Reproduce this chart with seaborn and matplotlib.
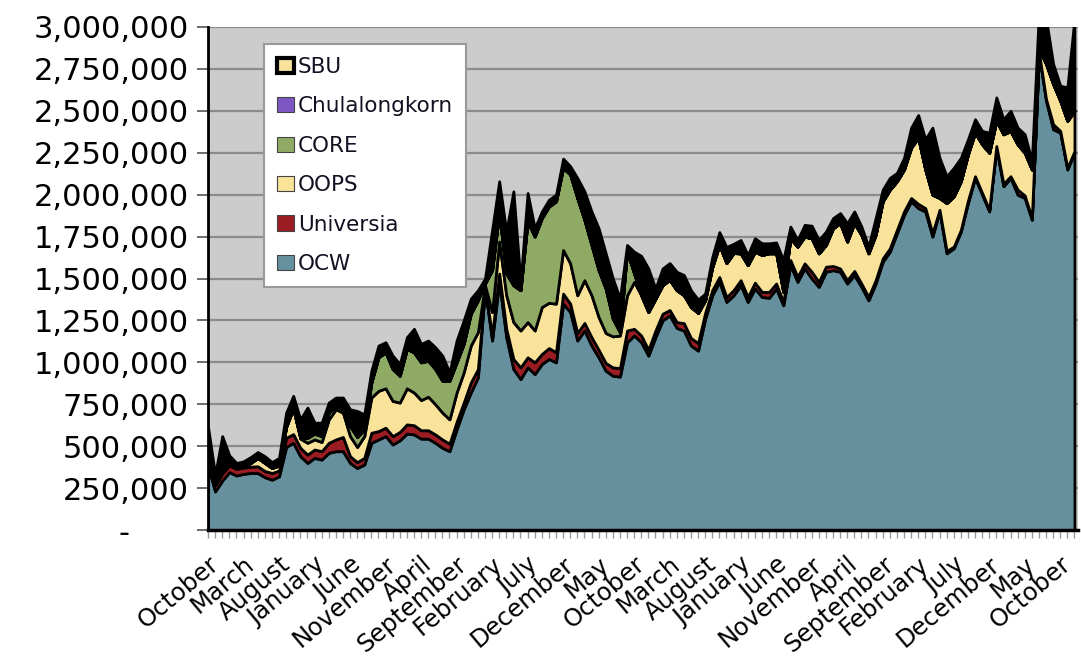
import numpy as np
import pandas as pd
import matplotlib
matplotlib.use("Agg")
import matplotlib.pyplot as plt
import seaborn as sns
from matplotlib.patches import Patch
from matplotlib.ticker import FuncFormatter, MultipleLocator

# monthly visits (thousands), one value per month starting October of year one
ocw = [380, 230, 295, 345, 325, 335, 340, 340, 315, 300, 320,
       495, 520, 440, 400, 430, 420, 460, 470, 470, 400,
       370, 390, 520, 540, 560, 510, 535, 575, 570, 545,
       545, 520, 490, 470, 600, 720, 820, 910, 1440, 1130,
       1480, 1150, 960, 900, 970, 930, 990, 1020, 1000, 1350,
       1300, 1130, 1190, 1100, 1030, 950, 920, 915, 1120, 1160,
       1120, 1040, 1150, 1250, 1280, 1205, 1190, 1100, 1070, 1260,
       1400, 1480, 1360, 1400, 1460, 1360, 1440, 1390, 1385, 1440,
       1340, 1580, 1480, 1560, 1500, 1450, 1540, 1550, 1540, 1470,
       1520, 1450, 1370, 1470, 1600, 1660, 1770, 1880, 1960, 1920,
       1900, 1750, 1900, 1650, 1680, 1780, 1950, 2100, 2000, 1900,
       2280, 2050, 2100, 2000, 1980, 1850, 2840, 2560, 2390, 2370,
       2150, 2250]
universia = [20, 38, 45, 40, 40, 37, 38, 40, 37, 40, 35,
             55, 52, 50, 50, 50, 50, 60, 70, 85, 40,
             35, 40, 60, 50, 50, 50, 50, 55, 55, 50,
             50, 50, 50, 45, 45, 40, 60, 50, 10, 30,
             50, 50, 60, 70, 60, 70, 60, 65, 60, 60,
             50, 45, 45, 50, 45, 46, 50, 51, 70, 40,
             40, 35, 40, 40, 32, 35, 44, 45, 45, 35,
             31, 29, 29, 31, 30, 30, 35, 30, 35, 30,
             20, 30, 30, 30, 40, 30, 30, 25, 20, 20,
             25, 20, 20, 20, 20, 20, 20, 20, 20, 25,
             20, 20, 10, 15, 10, 10, 15, 10, 10, 10,
             10, 15, 10, 30, 15, 10, 10, 10, 30, 10,
             10, 10]
oops = [0, 0, 0, 5, 5, 8, 22, 50, 48, 30, 30,
        65, 153, 55, 70, 60, 55, 140, 180, 145, 120,
        90, 130, 210, 240, 235, 210, 175, 215, 195, 180,
        200, 180, 160, 145, 175, 180, 220, 220, 10, 140,
        190, 200, 220, 220, 210, 190, 280, 270, 290, 260,
        240, 225, 255, 250, 195, 179, 185, 194, 210, 280,
        240, 225, 190, 170, 180, 190, 167, 185, 180, 75,
        137, 191, 203, 221, 160, 190, 185, 220, 230, 180,
        60, 130, 180, 160, 200, 170, 130, 225, 270, 230,
        285, 290, 260, 270, 340, 350, 290, 250, 300, 395,
        230, 230, 70, 285, 300, 290, 275, 260, 290, 340,
        150, 295, 270, 270, 255, 290, 20, 210, 240, 180,
        280, 240]
core = [0, 0, 0, 0, 0, 0, 0, 0, 0, 0, 0,
        0, 0, 5, 30, 35, 35, 40, 20, 20, 60,
        60, 40, 90, 200, 215, 190, 160, 235, 240, 225,
        215, 210, 190, 230, 180, 170, 190, 190, 10, 250,
        170, 130, 220, 240, 600, 560, 530, 575, 610, 490,
        530, 580, 360, 300, 280, 265, 105, 20, 260, 50] + [0] * 62
chulalongkorn = [0] * 78 + [5, 15, 10] + [0] * 42
sbu = [215, 62, 220, 55, 30, 30, 35, 35, 40, 35, 45,
       85, 75, 110, 180, 65, 80, 60, 50, 70, 100,
       155, 90, 70, 70, 60, 80, 70, 70, 140, 110,
       120, 130, 150, 50, 130, 140, 90, 60, 30, 240,
       190, 250, 560, 50, 170, 50, 40, 40, 40, 55,
       50, 120, 170, 200, 250, 210, 240, 200, 40, 130,
       235, 260, 60, 100, 100, 110, 120, 100, 80, 40,
       60, 77, 96, 55, 80, 60, 80, 65, 45, 55,
       190, 70, 40, 70, 75, 80, 80, 60, 60, 110,
       70, 50, 40, 100, 70, 70, 50, 70, 120, 135,
       180, 400, 240, 160, 170, 140, 90, 80, 80, 120,
       140, 90, 120, 100, 110, 50, 230, 270, 120, 90,
       200, 550]

month_labels = ["October", "March", "August", "January", "June", "November",
                "April", "September", "February", "July", "December", "May",
                "October", "March", "August", "January", "June", "November",
                "April", "September", "February", "July", "December", "May",
                "October"]

series = ["OCW", "Universia", "OOPS", "CORE", "Chulalongkorn", "SBU"]
colors = {"OCW": "#66909e", "Universia": "#9b1c22", "OOPS": "#f9e39b",
          "CORE": "#8faa64", "Chulalongkorn": "#7e57c2", "SBU": "#000000"}

df = pd.DataFrame({"OCW": ocw, "Universia": universia, "OOPS": oops,
                   "CORE": core, "Chulalongkorn": chulalongkorn, "SBU": sbu}) * 1000
df["month"] = np.arange(len(df))

sns.set_theme(style="white")
plt.rcParams["font.family"] = ["DejaVu Sans"]

fig = plt.figure(figsize=(10.81, 6.57), dpi=100)
ax = fig.add_axes([208 / 1081, 1 - 530 / 657, 870 / 1081, 503 / 657])
ax.set_facecolor("#cccccc")

ax.stackplot(df["month"], *[df[s] for s in series],
             colors=[colors[s] for s in series],
             edgecolor="black", linewidth=2)

ax.set_xlim(0, 122.5)
ax.set_ylim(0, 3000000)
ax.yaxis.set_major_locator(MultipleLocator(250000))
ax.yaxis.set_major_formatter(FuncFormatter(
    lambda v, p: "-      " if v == 0 else f"{int(v):,}"))
ax.yaxis.grid(True, color="#8c8c8c", linewidth=1.6)
ax.set_axisbelow(True)

ax.set_xticks(np.arange(0, 121, 5))
ax.set_xticklabels(month_labels)
ax.set_xticks(np.arange(0, 123, 1), minor=True)
plt.setp(ax.get_xticklabels(), rotation=40, ha="right", va="top",
         rotation_mode="anchor")

ax.tick_params(axis="y", labelsize=22, length=8, width=1.2, color="#555555",
               pad=6, left=True, labelcolor="black")
ax.tick_params(axis="x", which="both", length=6, width=1, color="#999999",
               bottom=True, direction="out")
ax.tick_params(axis="x", which="major", labelsize=17.5, pad=10, labelcolor="black")

for side in ["top", "right"]:
    ax.spines[side].set_visible(False)
ax.spines["left"].set_color("black")
ax.spines["left"].set_linewidth(2)
ax.spines["bottom"].set_color("black")
ax.spines["bottom"].set_linewidth(2.5)

handles = [Patch(facecolor="#f9e39b", edgecolor="black", linewidth=3, label="SBU")]
for s in ["Chulalongkorn", "CORE", "OOPS", "Universia", "OCW"]:
    handles.append(Patch(facecolor=colors[s], edgecolor="#444444", linewidth=0.8, label=s))
leg = ax.legend(handles=handles, loc="upper left", bbox_to_anchor=(0.064, 0.966),
                borderaxespad=0, fontsize=15.5, labelspacing=0.9,
                handlelength=0.8, handleheight=0.7, handletextpad=0.2,
                borderpad=0.6, frameon=True, fancybox=False, framealpha=1)
leg.get_frame().set_facecolor("white")
leg.get_frame().set_edgecolor("#999999")
leg.get_frame().set_linewidth(1.5)
for t in leg.get_texts():
    t.set_color("#111122")

fig.savefig("out.png", dpi=100)
